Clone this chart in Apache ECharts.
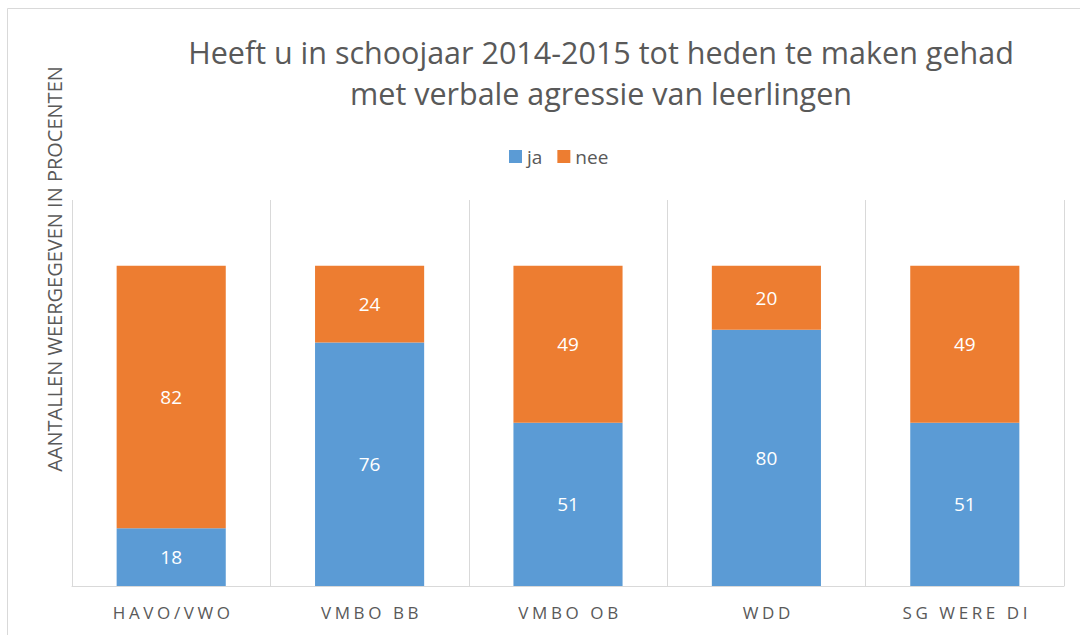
<!DOCTYPE html>
<html>
<head>
<meta charset="utf-8">
<style>
  html, body { margin: 0; padding: 0; background: #fff; }
  #chart { width: 1080px; height: 635px; }
  /* category labels are letter-spaced in the original */
  #chart text[style*="17px"] { letter-spacing: 3.6px; }
</style>
<script src="https://cdn.jsdelivr.net/npm/echarts@6/dist/echarts.min.js"></script>
</head>
<body>
<div id="chart"></div>
<script>
var categories = ['HAVO/VWO', 'VMBO BB', 'VMBO OB', 'WDD', 'SG WERE DI']
var jaValues = [18, 76, 51, 80, 51]
var neeValues = [82, 24, 49, 20, 49]
var titleLines = ['Heeft u in schoojaar 2014-2015 tot heden te maken gehad', 'met verbale agressie van leerlingen']
var yAxisName = 'AANTALLEN WEERGEGEVEN IN PROCENTEN'

var font = '"Open Sans", "Liberation Sans", sans-serif'
var textColor = '#595959'
var gridColor = '#d9d9d9'

var chartDom = document.getElementById('chart')
var myChart = echarts.init(chartDom, null, { renderer: 'svg' })

function segLabel() {
  return {
    show: true,
    position: 'inside',
    color: '#fff',
    fontFamily: font,
    fontSize: 19
  }
}

var option = {
  backgroundColor: '#fff',
  animation: false,
  color: ['#5B9BD5', '#ED7D31'],
  title: {
    text: titleLines.join('\n'),
    left: 596,
    top: 26,
    textAlign: 'center',
    textStyle: {
      fontFamily: font,
      fontSize: 30.5,
      fontWeight: 'normal',
      color: textColor,
      lineHeight: 41
    }
  },
  legend: {
    top: 142,
    left: 504,
    itemWidth: 13,
    itemHeight: 13,
    itemGap: 15,
    icon: 'rect',
    textStyle: {
      fontFamily: font,
      fontSize: 19,
      color: textColor
    },
    data: ['ja', 'nee']
  },
  graphic: [
    {
      type: 'rect',
      shape: { x: 7.5, y: 8.5, width: 1100, height: 700 },
      style: { fill: 'none', stroke: gridColor, lineWidth: 1 },
      silent: true
    },
    {
      type: 'text',
      x: 54,
      y: 269,
      rotation: Math.PI / 2,
      style: {
        text: yAxisName,
        fontFamily: font,
        fontSize: 20,
        fill: textColor,
        align: 'center',
        verticalAlign: 'middle'
      }
    }
  ],
  grid: {
    left: 72,
    right: 16,
    top: 200,
    bottom: 49
  },
  xAxis: {
    type: 'category',
    data: categories,
    axisLine: { lineStyle: { color: gridColor, width: 1 } },
    axisTick: { show: false },
    splitLine: { show: true, lineStyle: { color: gridColor, width: 1 } },
    axisLabel: {
      margin: 18,
      padding: [0, 0, 0, 4],
      fontFamily: font,
      fontSize: 17,
      color: textColor
    }
  },
  yAxis: {
    type: 'value',
    min: 0,
    max: 120.5,
    show: false,
    splitLine: { show: false }
  },
  series: [
    {
      name: 'ja',
      type: 'bar',
      stack: 'total',
      barWidth: '55%',
      label: segLabel(),
      data: jaValues
    },
    {
      name: 'nee',
      type: 'bar',
      stack: 'total',
      barWidth: '55%',
      label: segLabel(),
      data: neeValues
    }
  ]
}

option && myChart.setOption(option)
</script>
</body>
</html>
